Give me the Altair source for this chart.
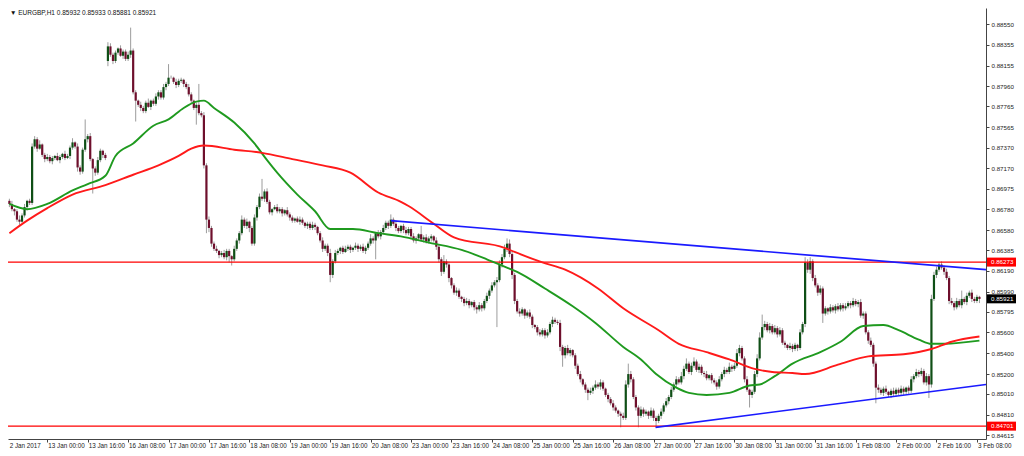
import altair as alt
import pandas as pd

# ---- candle data (prices in pips: 8650 -> 0.8650), one value per hourly bar ----
closes = [
    8683, 8678, 8676, 8668, 8666, 8672, 8680, 8686, 8684, 8738, 8745, 8736, 8740, 8730, 8726, 8728, 8724, 8727, 8729, 8725,
    8728, 8731, 8727, 8729, 8737, 8742, 8738, 8718, 8714, 8735, 8745, 8748, 8726, 8717, 8713, 8725, 8734, 8730, 8727, 8834,
    8826, 8820, 8828, 8832, 8825, 8829, 8822, 8826, 8830, 8790, 8782, 8778, 8775, 8772, 8780, 8776, 8782, 8779, 8786, 8790,
    8785, 8795, 8798, 8804, 8804, 8800, 8797, 8801, 8802, 8798, 8795, 8788, 8782, 8775, 8778, 8770, 8768, 8720, 8668, 8660,
    8645, 8640, 8638, 8634, 8636, 8632, 8638, 8633, 8630, 8640, 8648, 8655, 8668, 8662, 8666, 8660, 8645, 8670, 8680, 8690,
    8688, 8695, 8685, 8675, 8678, 8680, 8676, 8678, 8674, 8677, 8673, 8670, 8667, 8669, 8666, 8668, 8665, 8662, 8664, 8660,
    8663, 8661, 8655, 8648, 8640, 8643, 8636, 8615, 8628, 8636, 8638, 8641, 8637, 8640, 8642, 8639, 8641, 8643, 8640, 8642,
    8638, 8641, 8645, 8650, 8648, 8655, 8652, 8656, 8660, 8665, 8662, 8668, 8664, 8660, 8657, 8662, 8658, 8655, 8659, 8652,
    8648, 8650, 8654, 8649, 8651, 8647, 8650, 8652, 8648, 8642, 8630, 8618, 8628, 8625, 8612, 8605, 8598, 8600, 8594, 8592,
    8588, 8590, 8586, 8589, 8584, 8582, 8586, 8583, 8590, 8595, 8600, 8605, 8608, 8610, 8625, 8632, 8640, 8645, 8635, 8615,
    8590, 8580, 8578, 8582, 8576, 8579, 8575, 8567, 8565, 8560, 8558, 8562, 8557, 8560, 8568, 8572, 8570, 8569, 8546, 8538,
    8545, 8540, 8543, 8538, 8528, 8520, 8515, 8510, 8505, 8502, 8504, 8507, 8510, 8508, 8512, 8506, 8500, 8496, 8492, 8488,
    8485, 8482, 8480, 8478, 8510, 8520, 8515, 8498, 8488, 8480, 8486, 8482, 8484, 8480, 8485, 8478, 8475, 8480, 8484, 8490,
    8494, 8498, 8505, 8510, 8515, 8512, 8518, 8525, 8530, 8522, 8528, 8532, 8524, 8527, 8521, 8520, 8516, 8519, 8514, 8512,
    8508, 8515, 8520, 8524, 8522, 8527, 8525, 8528, 8540, 8545, 8535, 8515, 8505, 8500, 8503, 8520, 8535, 8555, 8565, 8568,
    8562, 8566, 8560, 8564, 8558, 8562, 8550, 8548, 8545, 8547, 8544, 8548, 8545, 8560, 8568, 8627, 8620, 8628, 8612, 8605,
    8598, 8602, 8578, 8583, 8580, 8584, 8581, 8585, 8582, 8586, 8583, 8585, 8588, 8586, 8590, 8587, 8589, 8576, 8578, 8560,
    8552, 8548, 8530, 8507, 8505, 8502, 8506, 8503, 8500, 8504, 8501, 8505, 8502, 8506, 8503, 8507, 8504, 8515, 8518, 8522,
    8520, 8523, 8512, 8518, 8510, 8592, 8615, 8620, 8625, 8622, 8618, 8612, 8590, 8588, 8584, 8590, 8586, 8592, 8589, 8595,
    8598, 8592, 8590, 8594, 8592,
]
# opens that differ from the previous close (first bar, Monday gap)
open_overrides = {0: 8686, 39: 8820}
# wick lengths above / below the body, in pips
upper_wicks = [
    2, 3, 1, 2, 4, 2, 3, 1, 2, 3, 3, 2, 4, 1, 2, 3, 2, 2, 1, 3,
    2, 1, 3, 2, 2, 4, 1, 3, 2, 2, 19, 2, 3, 1, 2, 3, 2, 1, 2, 4,
    3, 2, 2, 1, 3, 2, 2, 3, 22, 2, 2, 1, 3, 2, 2, 4, 1, 2, 3, 2,
    2, 3, 2, 13, 2, 1, 3, 2, 2, 1, 2, 3, 2, 1, 2, 20, 2, 3, 2, 3,
    2, 2, 3, 1, 2, 3, 2, 2, 1, 3, 2, 2, 4, 2, 3, 1, 2, 3, 2, 3,
    17, 2, 3, 2, 1, 2, 3, 2, 2, 1, 3, 2, 2, 1, 2, 3, 2, 1, 2, 2,
    3, 2, 1, 2, 3, 2, 2, 4, 2, 3, 2, 1, 2, 3, 2, 2, 1, 3, 2, 2,
    3, 2, 2, 4, 2, 1, 3, 2, 3, 2, 2, 5, 2, 3, 2, 1, 2, 3, 2, 2,
    3, 2, 1, 8, 2, 3, 2, 2, 1, 3, 2, 2, 6, 2, 3, 1, 2, 3, 2, 1,
    2, 3, 2, 1, 2, 2, 3, 2, 2, 3, 2, 3, 2, 3, 4, 3, 4, 5, 4, 3,
    2, 2, 3, 2, 1, 2, 3, 2, 1, 2, 3, 2, 2, 3, 2, 3, 2, 2, 3, 2,
    2, 3, 2, 1, 2, 2, 3, 1, 2, 2, 3, 2, 4, 2, 3, 2, 1, 2, 2, 3,
    2, 1, 2, 3, 4, 10, 3, 2, 2, 2, 3, 2, 2, 1, 3, 2, 2, 2, 3, 2,
    3, 2, 3, 2, 3, 2, 4, 3, 5, 2, 3, 4, 2, 3, 2, 2, 3, 1, 2, 2,
    2, 3, 2, 3, 2, 4, 2, 3, 4, 3, 2, 2, 3, 1, 2, 3, 4, 5, 12, 3,
    2, 3, 2, 3, 2, 3, 2, 2, 1, 3, 2, 2, 1, 3, 2, 5, 3, 4, 2, 3,
    2, 3, 2, 2, 1, 3, 2, 2, 3, 2, 2, 3, 2, 2, 3, 2, 2, 3, 2, 2,
    2, 3, 2, 2, 3, 2, 2, 3, 1, 2, 3, 2, 2, 3, 2, 1, 2, 3, 2, 3,
    2, 3, 2, 3, 2, 4, 3, 3, 2, 3, 2, 3, 2, 3, 2, 3, 2, 8, 2, 3,
    2, 3, 2, 2, 1,
]
lower_wicks = [
    3, 2, 4, 2, 3, 1, 2, 3, 2, 2, 2, 3, 1, 2, 3, 2, 2, 3, 2, 1,
    3, 2, 2, 1, 3, 2, 2, 4, 3, 2, 2, 3, 2, 24, 3, 2, 2, 3, 2, 5,
    2, 3, 2, 2, 1, 3, 2, 2, 3, 2, 20, 2, 3, 2, 2, 1, 3, 2, 2, 3,
    2, 2, 3, 2, 1, 2, 3, 2, 2, 3, 2, 2, 3, 2, 16, 2, 2, 3, 13, 4,
    3, 2, 2, 3, 2, 2, 3, 6, 6, 2, 2, 3, 2, 2, 3, 4, 2, 2, 3, 2,
    2, 3, 2, 2, 3, 1, 2, 2, 3, 2, 2, 3, 2, 2, 1, 3, 2, 2, 3, 2,
    2, 3, 2, 2, 3, 2, 3, 7, 3, 2, 2, 3, 2, 1, 2, 3, 2, 2, 3, 2,
    2, 3, 2, 2, 3, 18, 2, 3, 2, 2, 3, 2, 2, 3, 2, 2, 3, 2, 2, 3,
    2, 3, 2, 2, 3, 2, 2, 3, 2, 3, 3, 4, 2, 3, 4, 3, 2, 3, 2, 3,
    3, 2, 3, 2, 3, 4, 2, 3, 2, 2, 3, 2, 2, 43, 2, 3, 2, 3, 3, 4,
    3, 2, 3, 2, 3, 2, 2, 3, 2, 3, 2, 2, 3, 2, 2, 3, 2, 2, 4, 11,
    3, 2, 3, 2, 3, 2, 3, 2, 3, 7, 2, 3, 2, 2, 3, 2, 2, 3, 2, 3,
    2, 3, 11, 2, 2, 3, 3, 2, 3, 11, 2, 3, 2, 3, 2, 3, 6, 2, 3, 2,
    2, 3, 2, 2, 3, 2, 2, 3, 2, 2, 3, 2, 2, 3, 2, 3, 2, 2, 3, 2,
    3, 2, 2, 3, 2, 2, 3, 2, 2, 3, 2, 3, 2, 12, 3, 2, 3, 2, 2, 3,
    2, 3, 2, 2, 3, 2, 2, 3, 2, 2, 3, 2, 3, 2, 2, 3, 3, 4, 3, 2,
    3, 2, 9, 2, 3, 2, 2, 3, 2, 2, 3, 2, 2, 3, 2, 2, 3, 2, 3, 2,
    3, 2, 3, 15, 3, 2, 3, 2, 2, 3, 2, 3, 2, 2, 3, 2, 3, 2, 3, 2,
    3, 2, 2, 3, 13, 3, 2, 3, 2, 2, 3, 2, 3, 2, 3, 2, 2, 3, 2, 3,
    2, 3, 2, 2, 4,
]

# ---- moving averages (bar index, price in pips) ----
green_ma_idx = [0, 7, 15, 25, 31, 38, 42, 49, 57, 63, 69, 74, 77, 81, 89, 97, 102, 106, 114, 121,
                127, 136, 146, 155, 166, 179, 189, 196, 201, 212, 223, 232, 243, 250, 256, 264, 269, 276, 285, 293,
                297, 303, 310, 321, 329, 338, 346, 352, 360, 365, 370, 384]
green_ma_val = [8683, 8678, 8683, 8696, 8702, 8710, 8729, 8741, 8758, 8764, 8775, 8781, 8782, 8775, 8761, 8741, 8725, 8713, 8692, 8676,
                8659, 8659, 8655, 8652, 8646, 8639, 8630, 8623, 8618, 8602, 8585, 8569, 8546, 8534, 8520, 8507, 8502, 8500, 8502, 8509,
                8510, 8518, 8530, 8541, 8551, 8566, 8567, 8562, 8553, 8549, 8549, 8552]
red_ma_idx = [0, 7, 15, 25, 38, 49, 59, 67, 72, 77, 89, 100, 112, 124, 135, 146, 155, 158, 168, 176,
              196, 200, 211, 220, 233, 243, 257, 265, 276, 285, 295, 302, 310, 315, 328, 340, 354, 365, 373, 384]
red_ma_val = [8655, 8667, 8679, 8692, 8701, 8711, 8720, 8729, 8736, 8739, 8735, 8732, 8726, 8720, 8713, 8694, 8685, 8681, 8664, 8651,
              8641, 8637, 8627, 8620, 8602, 8583, 8562, 8549, 8541, 8534, 8525, 8522, 8521, 8520, 8529, 8537, 8539, 8544, 8551, 8556]

# ---- trend lines and levels ----
upper_trend_idx = [151, 386.6]
upper_trend_val = [8667, 8620]
lower_trend_idx = [255.8, 386.6]
lower_trend_val = [8469, 8510]
level_prices = [0.86273, 0.84701]

# ---- axes text ----
y_tick_values = [0.88550, 0.88355, 0.88155, 0.87960, 0.87765, 0.87565, 0.87370, 0.87170, 0.86975, 0.86780, 0.86580,
                 0.86385, 0.86190, 0.85990, 0.85795, 0.85600, 0.85400, 0.85200, 0.85010, 0.84810, 0.84615]
x_tick_idx = [15, 31, 47, 63, 79, 95, 111, 127, 143, 159, 175, 191, 207, 223, 239, 255, 271, 287, 303, 319, 335, 351, 367, 383]
x_tick_labels = ["13 Jan 00:00", "13 Jan 16:00", "16 Jan 08:00", "17 Jan 00:00", "17 Jan 16:00", "18 Jan 08:00",
                 "19 Jan 00:00", "19 Jan 16:00", "20 Jan 08:00", "23 Jan 00:00", "23 Jan 16:00", "24 Jan 08:00",
                 "25 Jan 00:00", "25 Jan 16:00", "26 Jan 08:00", "27 Jan 00:00", "27 Jan 16:00", "30 Jan 08:00",
                 "31 Jan 00:00", "31 Jan 16:00", "1 Feb 08:00", "2 Feb 00:00", "2 Feb 16:00", "3 Feb 08:00"]
first_label = "2 Jan 2017"
title_text = "\u25BC EURGBP,H1  0.85932 0.85933 0.85881 0.85921"
price_boxes = [("0.86273", 0.86273, "#ff0000"), ("0.85921", 0.85921, "#000000"), ("0.84701", 0.84701, "#ff0000")]

# ---- build tables ----
rows = []
for i, c in enumerate(closes):
    o = open_overrides.get(i, closes[i - 1] if i > 0 else c)
    hi = max(o, c) + upper_wicks[i]
    lo = min(o, c) - lower_wicks[i]
    rows.append({"i": i, "o": o / 10000, "c": c / 10000, "h": hi / 10000, "l": lo / 10000,
                 "dir": "up" if c >= o else "down"})
candles = pd.DataFrame(rows)
bull = candles[candles["dir"] == "up"]
bear = candles[candles["dir"] == "down"]

green_ma = pd.DataFrame({"i": green_ma_idx, "p": [v / 10000 for v in green_ma_val]})
red_ma = pd.DataFrame({"i": red_ma_idx, "p": [v / 10000 for v in red_ma_val]})
trend = pd.DataFrame(
    [{"i": a, "p": b / 10000, "s": "upper"} for a, b in zip(upper_trend_idx, upper_trend_val)]
    + [{"i": a, "p": b / 10000, "s": "lower"} for a, b in zip(lower_trend_idx, lower_trend_val)]
)
levels = pd.DataFrame({"p": level_prices})
xlabels = pd.DataFrame({"i": [-0.3] + x_tick_idx, "t": [first_label] + x_tick_labels})
red_boxes = pd.DataFrame([{"t": t, "p": p} for t, p, bg in price_boxes if bg != "#000000"])
black_boxes = pd.DataFrame([{"t": t, "p": p} for t, p, bg in price_boxes if bg == "#000000"])

W, H = 978, 431
PAD_R = 30
FONT = "Liberation Sans"

xscale = alt.Scale(domain=[-0.55, 386.6], nice=False, zero=False)
yscale = alt.Scale(domain=[0.845778, 0.887078], nice=False, zero=False)
xaxis = alt.Axis(values=x_tick_idx, labels=False, ticks=True, tickSize=3, domain=True, grid=False, title=None,
                 domainColor="#444444", tickColor="#444444")
yaxis = alt.Axis(orient="right", values=y_tick_values, format=".5f", labelFontSize=6.2, labelFont=FONT,
                 labelColor="#222222", tickSize=3, tickColor="#444444", domainColor="#444444", grid=False,
                 title=None, labelPadding=2)


def X(f):
    return alt.X(f, scale=xscale, axis=xaxis)


def Y(f):
    return alt.Y(f, scale=yscale, axis=yaxis)


wicks = alt.Chart(candles).mark_rule(strokeWidth=1, color="#9c9c9c").encode(
    x=X("i:Q"), y=Y("l:Q"), y2="h:Q")
bull_bodies = alt.Chart(bull).mark_rule(strokeWidth=2.2, strokeCap="butt", color="#0f4f16").encode(
    x=X("i:Q"), y=Y("o:Q"), y2="c:Q")
bear_bodies = alt.Chart(bear).mark_rule(strokeWidth=2.2, strokeCap="butt", color="#6e0f2c").encode(
    x=X("i:Q"), y=Y("o:Q"), y2="c:Q")

level_rules = alt.Chart(levels).mark_rule(strokeWidth=1.4, color="#ff0000").encode(y=Y("p:Q"))

green_line = alt.Chart(green_ma).mark_line(strokeWidth=1.9, interpolate="monotone", color="#1f9a1f").encode(
    x=X("i:Q"), y=Y("p:Q"))
red_line = alt.Chart(red_ma).mark_line(strokeWidth=1.9, interpolate="monotone", color="#ff1a1a").encode(
    x=X("i:Q"), y=Y("p:Q"))

trend_lines = alt.Chart(trend).mark_line(strokeWidth=1.7, color="#1a1aff").encode(
    x=X("i:Q"), y=Y("p:Q"), detail="s:N")

xlab = alt.Chart(xlabels).mark_text(align="left", baseline="alphabetic", fontSize=6.3, font=FONT,
                                    color="#222222", dx=1).encode(
    x=X("i:Q"), y=alt.value(H + 8.5), text="t:N")

red_rects = alt.Chart(red_boxes).mark_rect(yOffset=-4.5, y2Offset=4.5, color="#ff0000").encode(
    x=alt.value(W + 1), x2=alt.value(W + PAD_R), y=Y("p:Q"), y2="p:Q")
black_rects = alt.Chart(black_boxes).mark_rect(yOffset=-4.5, y2Offset=4.5, color="#000000").encode(
    x=alt.value(W + 1), x2=alt.value(W + PAD_R), y=Y("p:Q"), y2="p:Q")
box_text = alt.Chart(pd.concat([red_boxes, black_boxes])).mark_text(
    align="left", baseline="middle", fontSize=6.2, font=FONT, color="#ffffff").encode(
    x=alt.value(W + 5), y=Y("p:Q"), text="t:N")

title = alt.Chart(pd.DataFrame({"t": [title_text]})).mark_text(
    align="left", baseline="middle", fontSize=6.5, font="Liberation Sans, DejaVu Sans", color="#111111").encode(
    x=alt.value(2), y=alt.value(5), text="t:N")

chart = alt.layer(
    wicks, bull_bodies, bear_bodies, level_rules, green_line, red_line, trend_lines, xlab,
    red_rects, black_rects, box_text, title
).properties(
    width=W, height=H,
    padding={"left": 0, "top": 0, "right": PAD_R, "bottom": 9},
    autosize=alt.AutoSizeParams(type="none"),
    background="#ffffff",
).configure_view(stroke=None)

chart.save("out.html", embed_options={"renderer": "svg", "actions": False})
